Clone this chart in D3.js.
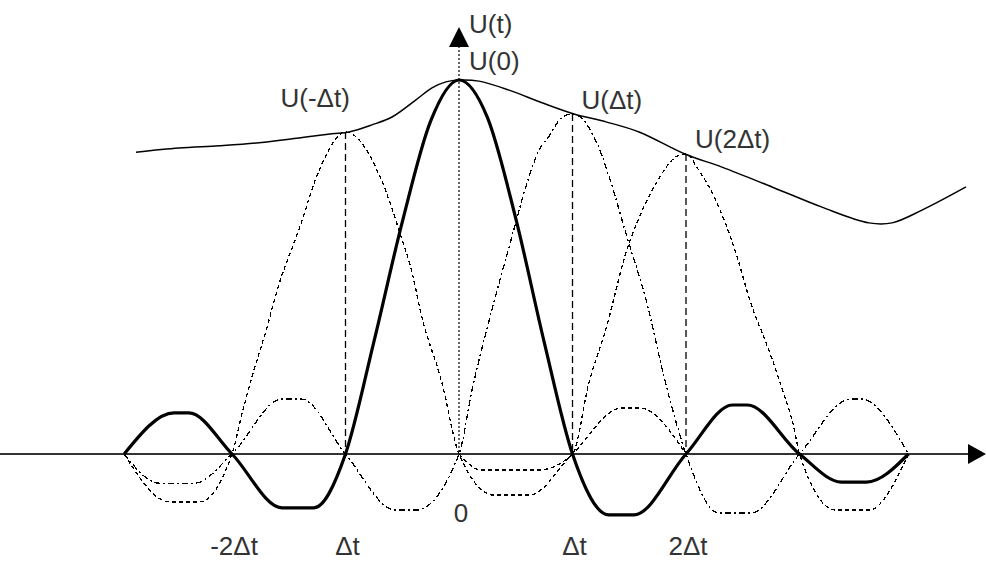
<!DOCTYPE html>
<html>
<head>
<meta charset="utf-8">
<script src="https://cdn.jsdelivr.net/npm/d3@7"></script>
<style>
  body { margin: 0; background: #fff; }
  svg { display: block; }
  text { font-family: "Liberation Sans", Arial, sans-serif; font-size: 26px; fill: #333; }
</style>
</head>
<body>
<div id="chart"></div>
<script>
// t in units of Δt, u relative to U(0)
const tickTimes = [-2, -1, 0, 1, 2];
const tickLabels = ['-2Δt', 'Δt', '0', 'Δt', '2Δt'];

const sampleTimes = [-1, 0, 1, 2];
const sampleValues = [0.861, 1.0, 0.909, 0.802];
const sampleLabels = ['U(-Δt)', 'U(0)', 'U(Δt)', 'U(2Δt)'];

// smooth signal U(t) through the samples
const envelope = [
  [-2.846, 0.807], [-2.467, 0.818], [-2.115, 0.824], [-1.762, 0.832], [-1.41, 0.845],
  [-1.119, 0.856], [-0.969, 0.861], [-0.767, 0.88], [-0.59, 0.901], [-0.379, 0.947],
  [-0.238, 0.979], [-0.115, 0.995], [0, 1.0], [0.176, 0.997], [0.441, 0.973],
  [0.731, 0.939], [1.013, 0.909], [1.295, 0.888], [1.586, 0.861], [1.991, 0.802],
  [2.317, 0.767], [2.758, 0.714], [3.198, 0.66], [3.612, 0.618], [3.815, 0.618],
  [4.079, 0.652], [4.467, 0.714]
];

// sampling pulse at t = 0 (thick)
const pulse0 = [
  [-2.95, 0], [-2.51, 0.11], [-2.38, 0.11], [-2.0, 0], [-1.56, -0.144], [-1.28, -0.144],
  [-1.0, 0], [-0.75, 0.30], [-0.5, 0.62], [-0.25, 0.89], [0, 1.0], [0.25, 0.90],
  [0.5, 0.63], [0.75, 0.30], [1.0, 0], [1.32, -0.163], [1.54, -0.163], [2.0, 0],
  [2.41, 0.131], [2.54, 0.131], [3.0, 0], [3.37, -0.075], [3.59, -0.075], [3.96, 0]
];

// pulse at -Δt
const pulseM1 = [
  [-2.95, 0], [-2.55, -0.128], [-2.29, -0.128], [-2.0, 0], [-1.91, 0.11], [-1.82, 0.21],
  [-1.70, 0.33], [-1.59, 0.45], [-1.41, 0.60], [-1.23, 0.76], [-1.0, 0.861], [-0.68, 0.73],
  [-0.53, 0.60], [-0.41, 0.48], [-0.33, 0.37], [-0.15, 0.19], [0, 0], [0.31, -0.11],
  [0.62, -0.11], [1.0, 0], [1.43, 0.123], [1.59, 0.123], [2.0, 0]
];

// pulse at Δt
const pulseP1 = [
  [-2.95, 0], [-2.64, -0.078], [-2.33, -0.078], [-2.0, 0], [-1.56, 0.147], [-1.39, 0.147],
  [-1.0, 0], [-0.56, -0.15], [-0.38, -0.15], [0, 0], [0.115, 0.171], [0.29, 0.385],
  [0.458, 0.572], [0.6, 0.725], [0.705, 0.813], [0.79, 0.848], [0.907, 0.9], [1.0, 0.909],
  [1.08, 0.898], [1.23, 0.82], [1.34, 0.725], [1.47, 0.59], [1.65, 0.41], [1.82, 0.19],
  [2.0, 0], [2.29, -0.158], [2.57, -0.158], [3.0, 0], [3.45, 0.147], [3.54, 0.147], [3.96, 0]
];

// pulse at 2Δt
const pulseP2 = [
  [0, 0], [0.2, -0.043], [0.7, -0.043], [1.0, 0], [1.145, 0.19], [1.3, 0.34], [1.47, 0.537],
  [1.59, 0.634], [1.74, 0.725], [1.91, 0.794], [2.0, 0.802], [2.11, 0.76], [2.29, 0.66],
  [2.44, 0.537], [2.57, 0.404], [2.73, 0.278], [2.85, 0.171], [2.95, 0.072], [3.0, 0],
  [3.32, -0.15], [3.61, -0.15], [3.96, 0]
];

const width = 986;
const height = 562;

const svg = d3.select('#chart').append('svg')
  .attr('width', width)
  .attr('height', height);

const xScale = d3.scaleLinear().domain([-2, 2]).range([232, 686]);
const yScale = d3.scaleLinear().domain([0, 1]).range([454, 80]);

const y0 = yScale(0);
const x0 = xScale(0);

// horizontal axis with arrow
svg.append('line')
  .attr('x1', 0).attr('x2', width - 16)
  .attr('y1', y0).attr('y2', y0)
  .attr('stroke', '#333').attr('stroke-width', 1.8);
svg.append('path')
  .attr('d', `M${width - 18},${y0 - 10}L${width},${y0}L${width - 18},${y0 + 10}Z`)
  .attr('fill', '#000');

// vertical axis (dotted) with arrow
svg.append('line')
  .attr('x1', x0).attr('x2', x0)
  .attr('y1', 46).attr('y2', y0)
  .attr('stroke', '#000').attr('stroke-width', 1.2)
  .attr('stroke-dasharray', '2,2');
svg.append('path')
  .attr('d', `M${x0 - 10},47L${x0},27L${x0 + 10},47Z`)
  .attr('fill', '#000');

// sample verticals
svg.append('g').selectAll('line')
  .data(sampleTimes.filter((d) => d !== 0))
  .join('line')
  .attr('x1', (d) => xScale(d)).attr('x2', (d) => xScale(d))
  .attr('y1', (d) => yScale(sampleValues[sampleTimes.indexOf(d)]))
  .attr('y2', y0)
  .attr('stroke', '#000').attr('stroke-width', 1.3)
  .attr('stroke-dasharray', '7,4');

const line = d3.line()
  .x((d) => xScale(d[0]))
  .y((d) => yScale(d[1]))
  .curve(d3.curveMonotoneX);

const pulses = [
  { data: pulseM1, dash: '4,3' },
  { data: pulseP1, dash: '6,3,2,3' },
  { data: pulseP2, dash: '4,3' },
];

svg.append('g').selectAll('path')
  .data(pulses)
  .join('path')
  .attr('d', (d) => line(d.data))
  .attr('fill', 'none')
  .attr('stroke', '#000')
  .attr('stroke-width', 1.3)
  .attr('shape-rendering', 'crispEdges')
  .attr('stroke-dasharray', (d) => d.dash);

svg.append('path')
  .attr('d', line(pulse0))
  .attr('fill', 'none')
  .attr('stroke', '#000')
  .attr('stroke-width', 3.2);

svg.append('path')
  .attr('d', d3.line().x((d) => xScale(d[0])).y((d) => yScale(d[1])).curve(d3.curveCatmullRom)(envelope))
  .attr('fill', 'none')
  .attr('stroke', '#000')
  .attr('stroke-width', 1.5);

// labels
svg.append('text').attr('x', x0 + 10).attr('y', 33).text('U(t)');

const labelPos = [
  { dx: -65, dy: -25 },
  { dx: 10, dy: -10 },
  { dx: 9, dy: -5 },
  { dx: 9, dy: -6 },
];
svg.append('g').selectAll('text')
  .data(sampleLabels)
  .join('text')
  .attr('x', (d, i) => xScale(sampleTimes[i]) + labelPos[i].dx)
  .attr('y', (d, i) => yScale(sampleValues[i]) + labelPos[i].dy)
  .text((d) => d);

svg.append('g').selectAll('text')
  .data(tickLabels)
  .join('text')
  .attr('text-anchor', 'middle')
  .attr('x', (d, i) => xScale(tickTimes[i]) + 2)
  .attr('y', (d, i) => (tickTimes[i] === 0 ? 522 : 555))
  .text((d) => d);
</script>
</body>
</html>
